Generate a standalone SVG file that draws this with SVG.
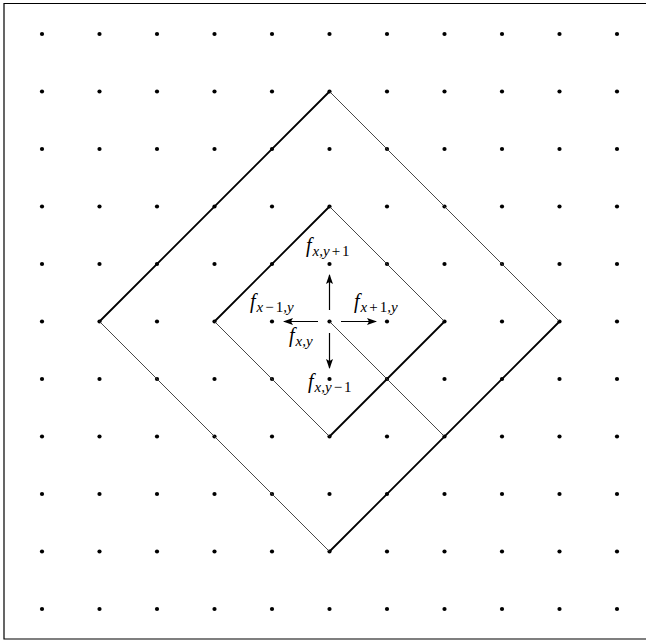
<svg xmlns="http://www.w3.org/2000/svg" width="646" height="640" viewBox="0 0 646 640">
<style>
.dot{fill:#000}
.thick{stroke:#000;stroke-width:1.8;fill:none;stroke-linecap:round}
.thin{stroke:#333;stroke-width:0.9;fill:none}
.arr{stroke:#000;stroke-width:1.2;fill:none}
.f{font-family:"Liberation Serif",serif;font-style:italic;font-size:20px}
.s{font-family:"Liberation Serif",serif;font-style:italic;font-size:15px}
.n{font-style:normal}
</style>
<defs>
<marker id="ah" markerWidth="10" markerHeight="8" refX="9" refY="4" orient="auto" markerUnits="userSpaceOnUse">
<path d="M0,0.5 L10,4 L0,7.5 L2,4 Z" fill="#000"/>
</marker>
<g id="row">
<circle cx="42" cy="0" r="2.1"/><circle cx="99.5" cy="0" r="2.1"/><circle cx="157" cy="0" r="2.1"/><circle cx="214.5" cy="0" r="2.1"/><circle cx="272" cy="0" r="2.1"/><circle cx="329.5" cy="0" r="2.1"/><circle cx="387" cy="0" r="2.1"/><circle cx="444.5" cy="0" r="2.1"/><circle cx="502" cy="0" r="2.1"/><circle cx="559.5" cy="0" r="2.1"/><circle cx="617" cy="0" r="2.1"/>
</g>
</defs>
<rect width="646" height="640" fill="#fff"/>
<path d="M647,3.5 H4 V639 H647" stroke="#000" stroke-width="1.2" fill="none"/>
<g id="grid" class="dot">
<use href="#row" y="34"/><use href="#row" y="91.5"/><use href="#row" y="149"/><use href="#row" y="206.5"/><use href="#row" y="264"/><use href="#row" y="321.5"/><use href="#row" y="379"/><use href="#row" y="436.5"/><use href="#row" y="494"/><use href="#row" y="551.5"/><use href="#row" y="609"/>
</g>
<g id="connectors">
<line class="thick" x1="99.5" y1="321.5" x2="329.5" y2="91.5"/>
<line class="thin" x1="329.5" y1="91.5" x2="559.5" y2="321.5"/>
<line class="thick" x1="559.5" y1="321.5" x2="329.5" y2="551.5"/>
<line class="thin" x1="329.5" y1="551.5" x2="99.5" y2="321.5"/>
<line class="thick" x1="214.5" y1="321.5" x2="329.5" y2="206.5"/>
<line class="thin" x1="329.5" y1="206.5" x2="444.5" y2="321.5"/>
<line class="thick" x1="444.5" y1="321.5" x2="329.5" y2="436.5"/>
<line class="thin" x1="329.5" y1="436.5" x2="214.5" y2="321.5"/>
<line class="thin" x1="329.5" y1="321.5" x2="444.5" y2="436.5"/>
<line class="arr" x1="329.5" y1="310" x2="329.5" y2="275" marker-end="url(#ah)"/>
<line class="arr" x1="318" y1="321.5" x2="284" y2="321.5" marker-end="url(#ah)"/>
<line class="arr" x1="341" y1="321.5" x2="376" y2="321.5" marker-end="url(#ah)"/>
<line class="arr" x1="329.5" y1="333" x2="329.5" y2="368" marker-end="url(#ah)"/>
</g>
<g id="labels">
<text class="f" x="306" y="252">f<tspan class="s" dx="1" dy="4">x,y<tspan class="n" dx="2">+</tspan><tspan class="n" dx="2">1</tspan></tspan></text>
<text class="f" x="250" y="308">f<tspan class="s" dx="1" dy="4">x<tspan class="n" dx="2">−</tspan><tspan class="n" dx="2">1</tspan>,y</tspan></text>
<text class="f" x="354" y="308">f<tspan class="s" dx="1" dy="4">x<tspan class="n" dx="2">+</tspan><tspan class="n" dx="2">1</tspan>,y</tspan></text>
<text class="f" x="289" y="342">f<tspan class="s" dx="1" dy="4">x,y</tspan></text>
<text class="f" x="308" y="388">f<tspan class="s" dx="1" dy="4">x,y<tspan class="n" dx="2">−</tspan><tspan class="n" dx="2">1</tspan></tspan></text>
</g>
</svg>
